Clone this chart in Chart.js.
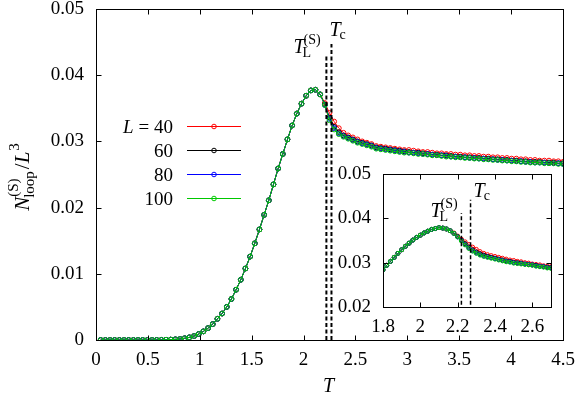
<!DOCTYPE html>
<html>
<head>
<meta charset="utf-8">
<script src="https://cdn.jsdelivr.net/npm/chart.js@4.4.0/dist/chart.umd.min.js"></script>
<style>
html, body { margin: 0; padding: 0; background: #fff; }
#wrap { position: relative; width: 575px; height: 397px; }
#main { position: absolute; left: 0; top: 0; }
#inset { position: absolute; left: 330px; top: 164px; }
</style>
</head>
<body>
<div id="wrap">
<canvas id="main" width="575" height="397"></canvas>
<canvas id="inset" width="235" height="180"></canvas>
</div>
<script>
// series
const SIZES = ["40", "60", "80", "100"];
const COLORS = ["#ff0000", "#000000", "#0000ff", "#00c800"];

// tick labels
const X_TICKS_MAIN = [0, 0.5, 1, 1.5, 2, 2.5, 3, 3.5, 4, 4.5];
const Y_TICKS_MAIN = [0, 0.01, 0.02, 0.03, 0.04, 0.05];
const X_TICKS_INSET = [1.8, 2, 2.2, 2.4, 2.6];
const Y_TICKS_INSET = [0.02, 0.03, 0.04, 0.05];

// marked temperatures and the tops of their dashed lines
const T_L = 2.22;
const T_C = 2.269;
const MAIN_DASH_TOP = [0.0432, 0.0447];
const INSET_DASH_TOP = [0.0412, 0.0442];

// main panel: temperatures
const T_MAIN = [
  0.045, 0.09, 0.135, 0.18, 0.225, 0.27, 0.315, 0.36, 0.405, 0.45,
  0.495, 0.54, 0.585, 0.63, 0.675, 0.72, 0.765, 0.81, 0.855, 0.9,
  0.945, 0.99, 1.035, 1.08, 1.125, 1.17, 1.215, 1.26, 1.305, 1.35,
  1.395, 1.44, 1.485, 1.53, 1.575, 1.62, 1.665, 1.71, 1.755, 1.8,
  1.845, 1.89, 1.935, 1.98, 2.025, 2.07, 2.115, 2.16, 2.205, 2.25,
  2.295, 2.34, 2.385, 2.43, 2.475, 2.52, 2.565, 2.61, 2.655, 2.7,
  2.745, 2.79, 2.835, 2.88, 2.925, 2.97, 3.015, 3.06, 3.105, 3.15,
  3.195, 3.24, 3.285, 3.33, 3.375, 3.42, 3.465, 3.51, 3.555, 3.6,
  3.645, 3.69, 3.735, 3.78, 3.825, 3.87, 3.915, 3.96, 4.005, 4.05,
  4.095, 4.14, 4.185, 4.23, 4.275, 4.32, 4.365, 4.41, 4.455, 4.5
];

// all sizes coincide up to T = 2.16
const MAIN_LOW = [
  0, 0, 0, 0, 0, 0, 0, 0, 0, 0,
  0, 0, 0.00001, 0.00002, 0.00004, 0.00006, 0.0001, 0.00015, 0.00026, 0.0004,
  0.0006, 0.0009, 0.0013, 0.0018, 0.0024, 0.0032, 0.0040, 0.0050, 0.0062, 0.0076,
  0.0091, 0.0108, 0.0126, 0.0146, 0.0167, 0.0189, 0.0211, 0.0235, 0.0259, 0.0281,
  0.0303, 0.0324, 0.0342, 0.0357, 0.0369, 0.0377, 0.0378, 0.0371
];

// T = 2.205 ... 4.5
const MAIN_HIGH_40 = [
  0.0358, 0.0343, 0.0330, 0.0320, 0.0313, 0.0309, 0.0306, 0.0303, 0.0300, 0.0298,
  0.0296, 0.0293, 0.0292, 0.0291, 0.0290, 0.0289, 0.0288, 0.0287, 0.0287, 0.0286,
  0.0285, 0.0284, 0.0284, 0.0283, 0.0282, 0.0282, 0.0281, 0.0281, 0.0280, 0.0280,
  0.0279, 0.0279, 0.0278, 0.0278, 0.0277, 0.0277, 0.0276, 0.0276, 0.0275, 0.0275,
  0.0274, 0.0274, 0.0273, 0.0273, 0.0272, 0.0272, 0.0271, 0.0271, 0.0271, 0.0270,
  0.0270, 0.0269
];
const MAIN_HIGH_60 = [
  0.0356, 0.0336, 0.0322, 0.0314, 0.0309, 0.0306, 0.0303, 0.0300, 0.0298, 0.0296,
  0.0294, 0.0291, 0.0290, 0.0289, 0.0288, 0.0287, 0.0286, 0.0285, 0.0284, 0.0283,
  0.0283, 0.0282, 0.0281, 0.0280, 0.0280, 0.0279, 0.0279, 0.0278, 0.0277, 0.0277,
  0.0276, 0.0276, 0.0275, 0.0275, 0.0274, 0.0274, 0.0273, 0.0273, 0.0272, 0.0272,
  0.0271, 0.0271, 0.0270, 0.0270, 0.0269, 0.0269, 0.0269, 0.0268, 0.0268, 0.0268,
  0.0267, 0.0267
];
const MAIN_HIGH_80 = [
  0.0355, 0.0334, 0.0320, 0.0312, 0.0308, 0.0305, 0.0302, 0.0299, 0.0297, 0.0295,
  0.0293, 0.0290, 0.0289, 0.0288, 0.0287, 0.0286, 0.0285, 0.0284, 0.0283, 0.0283,
  0.0282, 0.0281, 0.0281, 0.0280, 0.0279, 0.0279, 0.0278, 0.0277, 0.0277, 0.0276,
  0.0276, 0.0275, 0.0275, 0.0274, 0.0274, 0.0273, 0.0273, 0.0272, 0.0272, 0.0271,
  0.0271, 0.0270, 0.0270, 0.0269, 0.0269, 0.0268, 0.0268, 0.0268, 0.0267, 0.0267,
  0.0267, 0.0266
];
const MAIN_HIGH_100 = [
  0.0355, 0.0332, 0.0318, 0.0311, 0.0307, 0.0304, 0.0301, 0.0298, 0.0296, 0.0294,
  0.0292, 0.0289, 0.0288, 0.0287, 0.0286, 0.0285, 0.0284, 0.0283, 0.0283, 0.0282,
  0.0281, 0.0281, 0.0280, 0.0279, 0.0279, 0.0278, 0.0277, 0.0277, 0.0276, 0.0276,
  0.0275, 0.0275, 0.0274, 0.0274, 0.0273, 0.0273, 0.0272, 0.0272, 0.0271, 0.0271,
  0.0270, 0.0270, 0.0269, 0.0269, 0.0268, 0.0268, 0.0268, 0.0267, 0.0267, 0.0267,
  0.0266, 0.0266
];

// inset: temperatures
const T_INSET = [
  1.80, 1.82, 1.84, 1.86, 1.88, 1.90, 1.92, 1.94, 1.96, 1.98,
  2.00, 2.02, 2.04, 2.06, 2.08, 2.10, 2.12, 2.14, 2.16, 2.18,
  2.20, 2.22, 2.24, 2.26, 2.28, 2.30, 2.32, 2.34, 2.36, 2.38,
  2.40, 2.42, 2.44, 2.46, 2.48, 2.50, 2.52, 2.54, 2.56, 2.58,
  2.60, 2.62, 2.64, 2.66, 2.68, 2.70
];
const INSET_LOW = [
  0.0284, 0.0294, 0.0303, 0.0312, 0.0321, 0.0329, 0.0337, 0.0344, 0.0351, 0.0357,
  0.0362, 0.0367, 0.0371, 0.0375, 0.0377, 0.0379, 0.0378, 0.0376, 0.0372
];
// T = 2.18 ... 2.70
const INSET_HIGH_40 = [
  0.0367, 0.0360, 0.0353, 0.0347, 0.0341, 0.0335, 0.0330, 0.0325, 0.0321, 0.0318,
  0.0316, 0.0314, 0.0312, 0.0310, 0.0308, 0.0306, 0.0305, 0.0303, 0.0302, 0.0300,
  0.0299, 0.0297, 0.0296, 0.0295, 0.0293, 0.0292, 0.0291
];
const INSET_HIGH_60 = [
  0.0366, 0.0359, 0.0351, 0.0343, 0.0335, 0.0329, 0.0324, 0.0320, 0.0317, 0.0314,
  0.0312, 0.0310, 0.0308, 0.0306, 0.0304, 0.0303, 0.0301, 0.0300, 0.0299, 0.0297,
  0.0296, 0.0295, 0.0294, 0.0292, 0.0291, 0.0290, 0.0289
];
const INSET_HIGH_80 = [
  0.0366, 0.0358, 0.0350, 0.0341, 0.0333, 0.0327, 0.0322, 0.0318, 0.0315, 0.0313,
  0.0311, 0.0309, 0.0307, 0.0305, 0.0303, 0.0302, 0.0300, 0.0299, 0.0298, 0.0297,
  0.0296, 0.0295, 0.0293, 0.0292, 0.0291, 0.0289, 0.0288
];
const INSET_HIGH_100 = [
  0.0366, 0.0358, 0.0349, 0.0340, 0.0332, 0.0326, 0.0321, 0.0317, 0.0314, 0.0312,
  0.0310, 0.0308, 0.0306, 0.0304, 0.0302, 0.0301, 0.0299, 0.0298, 0.0297, 0.0296,
  0.0295, 0.0294, 0.0292, 0.0291, 0.0290, 0.0288, 0.0287
];

const MAIN_Y = [MAIN_HIGH_40, MAIN_HIGH_60, MAIN_HIGH_80, MAIN_HIGH_100].map(h => MAIN_LOW.concat(h));
const INSET_Y = [INSET_HIGH_40, INSET_HIGH_60, INSET_HIGH_80, INSET_HIGH_100].map(h => INSET_LOW.concat(h));

const SERIF = '"Liberation Serif", "Times New Roman", Tinos, "DejaVu Serif", "Noto Serif", FreeSerif, Times, serif';

function txt(ctx, s, x, y, size, italic) {
  ctx.font = (italic ? "italic " : "") + size + "px " + SERIF;
  ctx.fillText(s, x, y);
  return ctx.measureText(s).width;
}

function drawTL(ctx, x, y) {
  const w = txt(ctx, "T", x, y, 20, true);
  txt(ctx, "L", x + w - 2, y + 4, 14, false);
  txt(ctx, "(S)", x + w - 1, y - 9, 14, false);
}

function drawTc(ctx, x, y) {
  const w = txt(ctx, "T", x, y, 20, true);
  txt(ctx, "c", x + w - 1, y + 3, 14, false);
}

function series(i, xs, ys, radius) {
  return {
    label: "L = " + SIZES[i],
    data: xs.map((x, k) => ({ x: x, y: ys[k] })),
    borderColor: COLORS[i],
    borderWidth: 1,
    pointRadius: radius,
    pointBorderWidth: 1,
    pointBorderColor: COLORS[i],
    pointBackgroundColor: "rgba(0,0,0,0)",
    order: 4 - i,
    tension: 0
  };
}

function dashed(x, top, width) {
  return {
    data: [{ x: x, y: 0 }, { x: x, y: top }],
    borderColor: "#000",
    borderWidth: width,
    borderDash: [4, 2.5],
    pointRadius: 0,
    order: 0
  };
}

// box with inward ticks on all four sides
function frame(tickLen) {
  return {
    id: "frame",
    afterDatasetsDraw(chart) {
      const ctx = chart.ctx;
      const a = chart.chartArea;
      const l = Math.round(a.left) + 0.5, r = Math.round(a.right) + 0.5;
      const t = Math.round(a.top) + 0.5, b = Math.round(a.bottom) + 0.5;
      ctx.save();
      ctx.strokeStyle = "#000";
      ctx.lineWidth = 1;
      ctx.beginPath();
      chart.scales.x.ticks.forEach(tk => {
        const p = Math.round(chart.scales.x.getPixelForValue(tk.value)) + 0.5;
        ctx.moveTo(p, b); ctx.lineTo(p, b - tickLen);
        ctx.moveTo(p, t); ctx.lineTo(p, t + tickLen);
      });
      chart.scales.y.ticks.forEach(tk => {
        const p = Math.round(chart.scales.y.getPixelForValue(tk.value)) + 0.5;
        ctx.moveTo(l, p); ctx.lineTo(l + tickLen, p);
        ctx.moveTo(r, p); ctx.lineTo(r - tickLen, p);
      });
      ctx.stroke();
      ctx.strokeRect(l, t, r - l, b - t);
      ctx.restore();
    }
  };
}

const mainLabels = {
  id: "mainLabels",
  afterDraw(chart) {
    const ctx = chart.ctx;
    const xs = chart.scales.x;
    ctx.save();
    ctx.fillStyle = "#000";
    ctx.textAlign = "left";
    ctx.textBaseline = "alphabetic";

    drawTL(ctx, xs.getPixelForValue(T_L) - 33, 53);
    drawTc(ctx, xs.getPixelForValue(T_C) - 2, 36);

    // x title
    txt(ctx, "T", 323, 392, 20, true);

    // y title, rotated
    ctx.save();
    ctx.translate(22, 178);
    ctx.rotate(-Math.PI / 2);
    ctx.font = "italic 21px " + SERIF;
    const wN = ctx.measureText("N").width;
    ctx.font = "15px " + SERIF;
    const wSub = Math.max(ctx.measureText("loop").width, ctx.measureText("(S)").width);
    ctx.font = "21px " + SERIF;
    const wSl = ctx.measureText("/").width;
    ctx.font = "italic 21px " + SERIF;
    const wL = ctx.measureText("L").width;
    ctx.font = "15px " + SERIF;
    const w3 = ctx.measureText("3").width;
    const total = wN + wSub + wSl + wL + w3;
    let x = -total / 2;
    txt(ctx, "N", x, 7, 21, true);
    txt(ctx, "loop", x + wN - 1, 12, 15, false);
    txt(ctx, "(S)", x + wN, -4, 15, false);
    x += wN + wSub + 1;
    txt(ctx, "/", x, 7, 21, false);
    x += wSl;
    txt(ctx, "L", x, 7, 21, true);
    x += wL;
    txt(ctx, "3", x + 1, -3, 15, false);
    ctx.restore();

    // legend
    for (let i = 0; i < SIZES.length; i++) {
      const y = 126 + i * 24;
      ctx.textAlign = "right";
      ctx.font = "19px " + SERIF;
      const label = i === 0 ? "= " + SIZES[i] : SIZES[i];
      ctx.fillText(label, 173, y + 7);
      if (i === 0) {
        const w = ctx.measureText(label).width;
        ctx.font = "italic 19px " + SERIF;
        ctx.fillText("L", 173 - w - 5, y + 7);
      }
      ctx.strokeStyle = COLORS[i];
      ctx.lineWidth = 1;
      ctx.beginPath();
      ctx.moveTo(187, y + 0.5);
      ctx.lineTo(241, y + 0.5);
      ctx.stroke();
      ctx.beginPath();
      ctx.arc(214, y + 0.5, 2.3, 0, Math.PI * 2);
      ctx.stroke();
    }
    ctx.restore();
  }
};

const insetLabels = {
  id: "insetLabels",
  afterDraw(chart) {
    const ctx = chart.ctx;
    const xs = chart.scales.x;
    ctx.save();
    ctx.fillStyle = "#000";
    ctx.textAlign = "left";
    ctx.textBaseline = "alphabetic";
    drawTL(ctx, xs.getPixelForValue(T_L) - 31, 53);
    drawTc(ctx, xs.getPixelForValue(T_C) + 3, 33);
    ctx.restore();
  }
};

function tickFont() {
  return { family: SERIF, size: 19 };
}

function makeOptions(cfg) {
  return {
    responsive: false,
    animation: false,
    events: [],
    layout: { padding: cfg.padding },
    plugins: { legend: { display: false }, tooltip: { enabled: false } },
    scales: {
      x: {
        type: "linear",
        min: cfg.xmin, max: cfg.xmax,
        grid: { display: false, drawTicks: false },
        border: { display: false },
        afterBuildTicks: s => { s.ticks = cfg.xticks.map(v => ({ value: v })); },
        afterFit: s => { s.height = cfg.xh; s.paddingLeft = 0; s.paddingRight = 0; },
        ticks: { color: "#000", font: tickFont(), padding: 9, maxRotation: 0,
          callback: v => String(+v.toFixed(1)) }
      },
      y: {
        type: "linear",
        min: cfg.ymin, max: cfg.ymax,
        grid: { display: false, drawTicks: false },
        border: { display: false },
        afterBuildTicks: s => { s.ticks = cfg.yticks.map(v => ({ value: v })); },
        afterFit: s => { s.width = cfg.yw; s.paddingTop = 0; s.paddingBottom = 0; },
        ticks: { color: "#000", font: tickFont(), padding: 12,
          callback: v => (v === 0 ? "0" : v.toFixed(2)) }
      }
    }
  };
}

const mainSets = MAIN_Y.map((ys, i) => series(i, T_MAIN, ys, 2.4));
mainSets.push(dashed(T_L, MAIN_DASH_TOP[0], 2));
mainSets.push(dashed(T_C, MAIN_DASH_TOP[1], 2));

new Chart(document.getElementById("main"), {
  type: "line",
  data: { datasets: mainSets },
  options: makeOptions({
    padding: { left: 0, top: 9, right: 12, bottom: 0 },
    xmin: 0, xmax: 4.5, ymin: 0, ymax: 0.05,
    xticks: X_TICKS_MAIN, yticks: Y_TICKS_MAIN,
    xh: 57, yw: 96
  }),
  plugins: [frame(5), mainLabels]
});

const insetSets = INSET_Y.map((ys, i) => series(i, T_INSET, ys, 2));
insetSets.push(dashed(T_L, INSET_DASH_TOP[0], 1.5));
insetSets.push(dashed(T_C, INSET_DASH_TOP[1], 1.5));

new Chart(document.getElementById("inset"), {
  type: "line",
  data: { datasets: insetSets },
  options: makeOptions({
    padding: { left: 0, top: 10, right: 14, bottom: 0 },
    xmin: 1.8, xmax: 2.7, ymin: 0.02, ymax: 0.05,
    xticks: X_TICKS_INSET, yticks: Y_TICKS_INSET,
    xh: 37, yw: 53
  }),
  plugins: [frame(5), insetLabels]
});
</script>
</body>
</html>
